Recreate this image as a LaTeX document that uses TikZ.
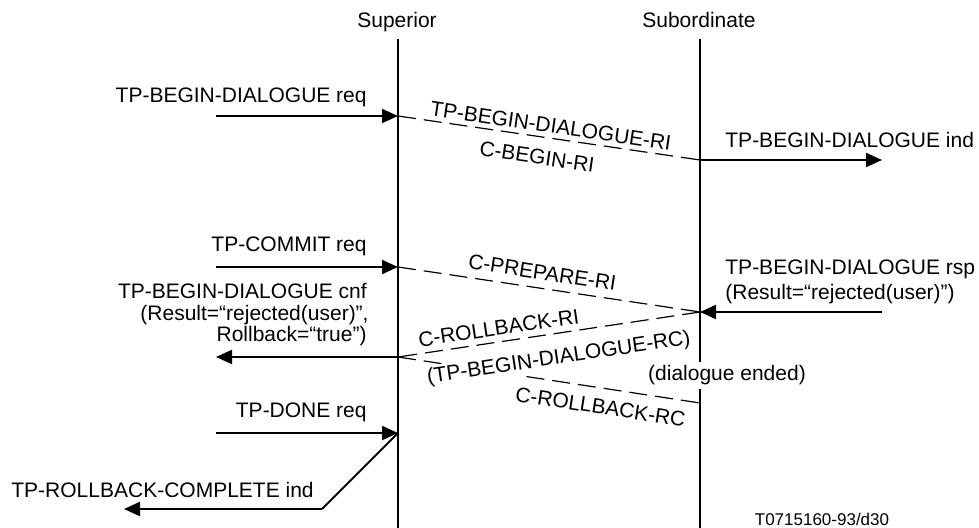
\documentclass[tikz,border=0pt]{standalone}
\usepackage{fontspec}
\setmainfont{Liberation Sans}
\usetikzlibrary{arrows.meta}
\begin{document}
\begin{tikzpicture}[x=0.5pt,y=-0.5pt,
  every node/.style={font=\fontsize{10.5}{11}\selectfont, inner sep=0pt},
  lifeline/.style={line width=1pt},
  msg/.style={line width=1pt, -{Triangle[length=8pt,width=7pt]}},
  pdu/.style={line width=0.6pt, dash pattern=on 9pt off 4pt},
  lbl/.style={sloped, inner sep=0pt},
  note/.style={font=\fontsize{8.5}{9}\selectfont},
]
\useasboundingbox (0,0) rectangle (979,528);

% entities and their time lines
\node[anchor=base] (supname) at (397,28) {Superior};
\node[anchor=base] (subname) at (699,28) {Subordinate};
\coordinate (supT) at (398,39);
\coordinate (supB) at (398,528);
\coordinate (subT) at (700,39);
\coordinate (subB) at (700,528);
\draw[lifeline] (supT) -- (supB);
\draw[lifeline] (subT) -- (subB);

% points on the time lines
\coordinate (sup1) at (398,116);
\coordinate (sub1) at (700,160);
\coordinate (sup2) at (398,267);
\coordinate (sub2) at (700,312);
\coordinate (sup3) at (398,357);
\coordinate (sub3) at (700,403);
\coordinate (sup4) at (398,433);
\coordinate (bend) at (322,509);

% outer ends of the service primitives
\coordinate (reqL) at (216,116);
\coordinate (indR) at (882,160);
\coordinate (comL) at (216,267);
\coordinate (rspR) at (882,312);
\coordinate (cnfL) at (216,357);
\coordinate (donL) at (216,433);
\coordinate (rbcL) at (124,509);

% primitive labels
\node[anchor=base east] (reqlbl) at (367,103) {TP-BEGIN-DIALOGUE req};
\node[anchor=base west] (indlbl) at (725,148) {TP-BEGIN-DIALOGUE ind};
\node[anchor=base east] (comlbl) at (367,252) {TP-COMMIT req};
\node[anchor=base west] (rsplbl1) at (725,275) {TP-BEGIN-DIALOGUE rsp};
\node[anchor=base west] (rsplbl2) at (725,300) {(Result=“rejected(user)”)};
\node[anchor=base east] (cnflbl1) at (367,299) {TP-BEGIN-DIALOGUE cnf};
\node[anchor=base east] (cnflbl2) at (369,321) {(Result=“rejected(user)”,};
\node[anchor=base east] (cnflbl3) at (367,342) {Rollback=“true”)};
\node[anchor=base east] (donlbl) at (367,418) {TP-DONE req};
\node[anchor=base west] (rbclbl) at (11,497) {TP-ROLLBACK-COMPLETE ind};

% service primitives
\draw[msg] (reqL) -- (sup1);
\draw[msg] (sub1) -- (indR);
\draw[msg] (comL) -- (sup2);
\draw[msg] (rspR) -- (sub2);
\draw[msg] (sup3) -- (cnfL);
\draw[msg] (donL) -- (sup4);
\draw[line width=1pt] (sup4) -- (bend);
\draw[msg] (bend) -- (rbcL);

% break in the subordinate time line
\node[fill=white, inner xsep=1pt, inner ysep=2pt, anchor=base] (ended) at (727,381) {(dialogue ended)};

% protocol data units
\draw[pdu] (sup1) -- (sub1)
  node[lbl, pos=0.5, anchor=south, outer sep=2.5pt] (l1a) {TP-BEGIN-DIALOGUE-RI}
  node[lbl, pos=0.47, anchor=north, outer sep=6.5pt] (l1b) {C-BEGIN-RI};
\draw[pdu] (sup2) -- (sub2)
  node[lbl, pos=0.47, anchor=south, outer sep=4.2pt] (l2a) {C-PREPARE-RI};
\draw[pdu] (sup3) -- (sub3)
  node[lbl, pos=0.68, anchor=north, outer sep=5.7pt] (l4b) {C-ROLLBACK-RC};
\path (sup3) -- (sub2)
  node[lbl, pos=0.52, anchor=north, outer sep=6.7pt, fill=white, inner ysep=1pt, inner xsep=0.5pt] (l3b) {(TP-BEGIN-DIALOGUE-RC)};
\draw[pdu] (sub2) -- (sup3);
\path (sup3) -- (sub2)
  node[lbl, pos=0.34, anchor=south, outer sep=3.2pt] (l3a) {C-ROLLBACK-RI};

% drawing reference
\node[note, anchor=base] (ref) at (822,525) {T0715160-93/d30};
\end{tikzpicture}
\end{document}
